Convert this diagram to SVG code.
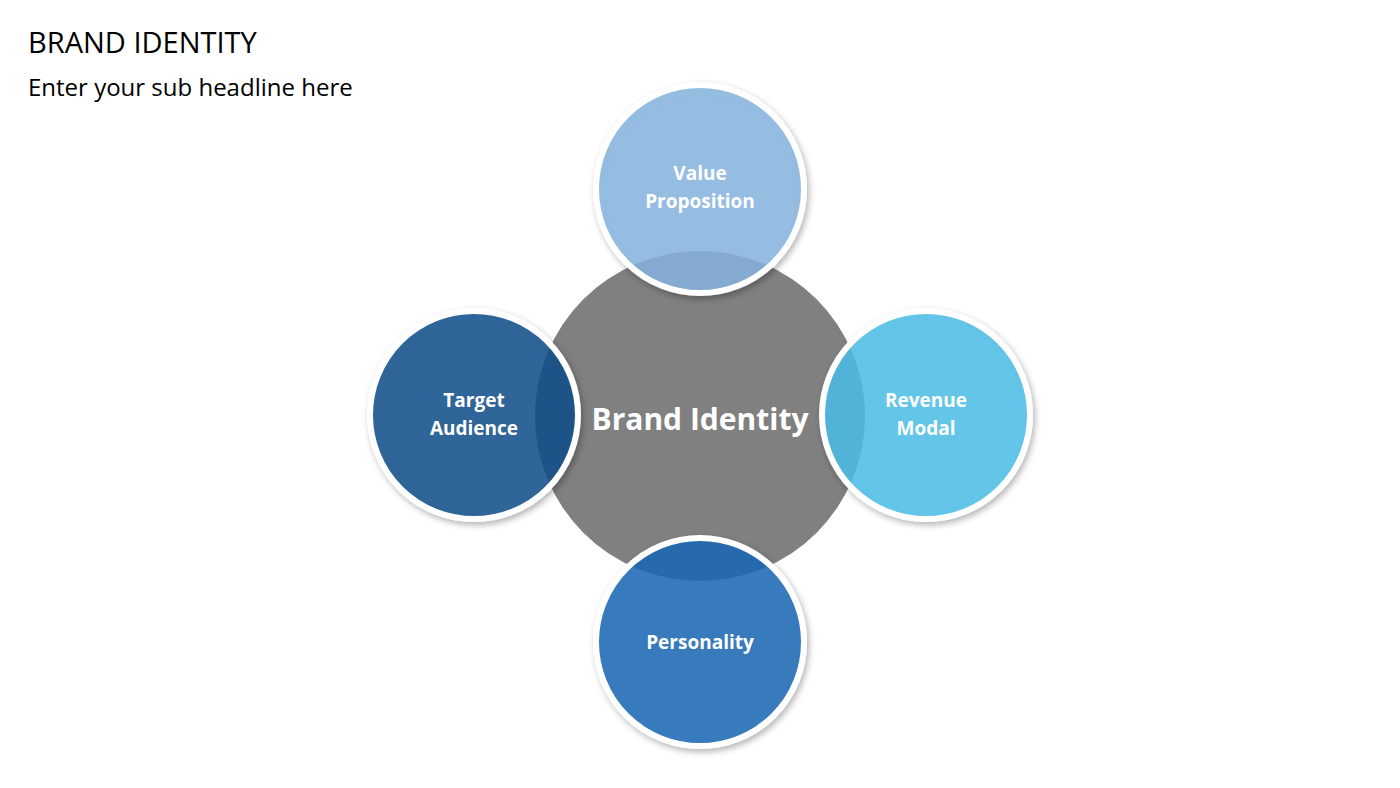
<svg xmlns="http://www.w3.org/2000/svg" width="1400" height="788" viewBox="0 0 1400 788">
<defs>
<filter id="sh" x="-20%" y="-20%" width="140%" height="140%"><feDropShadow dx="2" dy="3" stdDeviation="3" flood-color="#000" flood-opacity="0.3"/></filter>
<style>
.t{font-family:"Open Sans","Liberation Sans",sans-serif;fill:#000}
.l{font-family:"Open Sans","Liberation Sans",sans-serif;font-weight:bold;fill:#fff;font-size:19px;text-anchor:middle}
.c{stroke:#fff;stroke-width:6;fill-opacity:0.82}
</style>
</defs>
<rect width="1400" height="788" fill="#fff"/>
<text class="t" x="28" y="53" font-size="29">BRAND IDENTITY</text>
<text class="t" x="28" y="96" font-size="24">Enter your sub headline here</text>
<g id="center"><circle cx="700" cy="416" r="165" fill="#808080"/></g>
<g id="connectors"/>
<g id="value"><circle class="c" cx="700" cy="189" r="104" fill="#87B6E0" filter="url(#sh)"/><text class="l" x="700" y="180">Value</text><text class="l" x="700" y="208">Proposition</text></g>
<g id="target"><circle class="c" cx="474" cy="415" r="104" fill="#0F4E8B" filter="url(#sh)"/><text class="l" x="474" y="407">Target</text><text class="l" x="474" y="435">Audience</text></g>
<g id="revenue"><circle class="c" cx="926" cy="415" r="104" fill="#4CC0EA" filter="url(#sh)"/><text class="l" x="926" y="407">Revenue</text><text class="l" x="926" y="435">Modal</text></g>
<g id="personality"><circle class="c" cx="700" cy="642" r="104" fill="#1568B7" filter="url(#sh)"/><text class="l" x="700" y="649">Personality</text></g>
<text x="700" y="430" font-family="Open Sans, Liberation Sans, sans-serif" font-weight="bold" font-size="30" fill="#fff" text-anchor="middle">Brand Identity</text>
</svg>
